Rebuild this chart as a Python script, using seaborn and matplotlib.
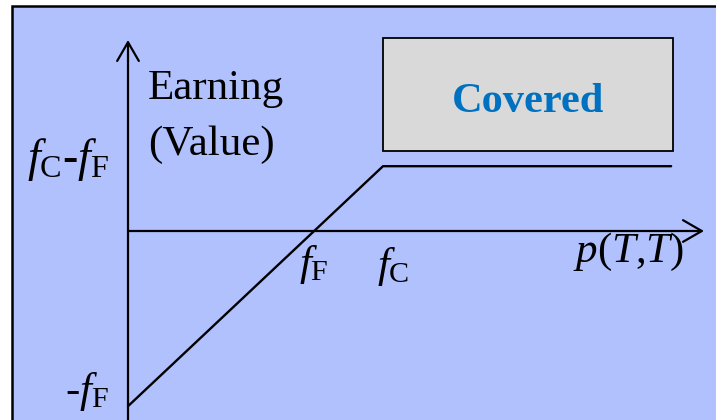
import numpy as np
import pandas as pd
import matplotlib
matplotlib.use("Agg")
import matplotlib.pyplot as plt
import seaborn as sns
from matplotlib.patches import Rectangle

# futures price levels (fF < fC), payoff of the covered position
f_F = 0.73
f_C = 1.0
p_end = 2.13

price = [0.0, f_C, p_end]
earning = [-f_F, f_C - f_F, f_C - f_F]

x_label = "$p$($T$,$T$)"
y_label = ["Earning", "(Value)"]
box_text = "Covered"

sns.set_style("white")
plt.rcParams["font.family"] = ["Liberation Serif", "DejaVu Serif"]
plt.rcParams["text.color"] = "black"
plt.rcParams["mathtext.fontset"] = "custom"
plt.rcParams["mathtext.rm"] = "Liberation Serif"
plt.rcParams["mathtext.it"] = "Liberation Serif:italic"
plt.rcParams["mathtext.bf"] = "Liberation Serif:bold"

W, H = 716, 420
fig = plt.figure(figsize=(W / 100, H / 100), dpi=100)
fig.patch.set_facecolor("white")

# blue panel, only top and left border visible
fig.patches.append(Rectangle((12 / W, -0.2), 1.2, (H - 6) / H + 0.2,
                             transform=fig.transFigure, facecolor="#b0c1fe",
                             edgecolor="black", lw=1.8, zorder=-10))

ax = fig.add_axes([0, 0, 1, 1])
ax.patch.set_alpha(0)
ox, oy, sx, sy = 128, 231, 255, 240  # origin pixel and pixel per unit


def px(x, y):
    return (x - ox) / sx, (oy - y) / sy


ax.set_xlim(px(0, 0)[0], px(W, 0)[0])
ax.set_ylim(px(0, H)[1], px(0, 0)[1])
ax.axis("off")

df = pd.DataFrame({"price": price, "earning": earning})
sns.lineplot(data=df, x="price", y="earning", color="black", lw=1.7,
             sort=False, ax=ax)

arrow = dict(arrowstyle="->,head_length=0.45,head_width=0.26", color="black",
             lw=1.6, shrinkA=0, shrinkB=0, mutation_scale=30)
ax.annotate("", xy=(0, px(0, 40)[1]), xytext=(0, px(0, H + 5)[1]),
            arrowprops=arrow, annotation_clip=False)
ax.annotate("", xy=(px(704, 0)[0], 0), xytext=(0, 0), arrowprops=arrow)

# covered box
bx0, by0 = px(383, 151)
bx1, by1 = px(673, 38)
ax.add_patch(Rectangle((bx0, by0), bx1 - bx0, by1 - by0, facecolor="#d9d9d9",
                       edgecolor="black", lw=1.3))
ax.text(*px(528, 112), box_text, color="#0070c0", fontsize=30.5,
        fontweight="bold", ha="center", va="baseline")

ax.text(*px(148, 99), y_label[0], fontsize=31, ha="left", va="baseline")
ax.text(*px(148, 155), y_label[1], fontsize=31, ha="left", va="baseline")

ax.text(*px(109, 171), r"$f_{\mathrm{C}}$-$f_{\mathrm{F}}$", fontsize=33,
        ha="right", va="baseline")
ax.text(*px(109, 402), r"-$f_{\mathrm{F}}$", fontsize=31, ha="right",
        va="baseline")
ax.text(f_F, px(0, 275)[1], r"$f_{\mathrm{F}}$", fontsize=31, ha="center",
        va="baseline")
ax.text(f_C + 0.04, px(0, 277)[1], r"$f_{\mathrm{C}}$", fontsize=31,
        ha="center", va="baseline")
ax.text(*px(629, 262), x_label, fontsize=31, ha="center", va="baseline")

fig.savefig("out.png", dpi=100)
